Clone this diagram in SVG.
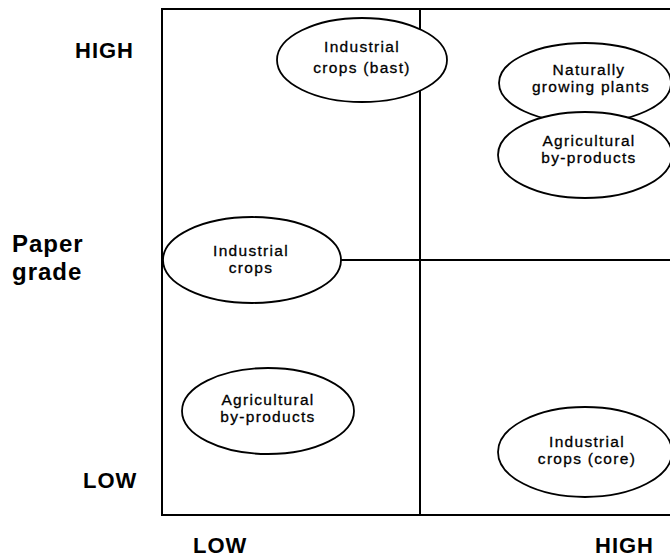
<svg xmlns="http://www.w3.org/2000/svg" width="670" height="558" viewBox="0 0 670 558">
<style>
.ln{stroke:#000;stroke-width:2;fill:none}
.el{fill:#fff;stroke:#000;stroke-width:1.8}
.t{font-family:"Liberation Sans",Arial,sans-serif;font-size:15.5px;letter-spacing:1.3px;text-anchor:middle;fill:#000;stroke:#000;stroke-width:0.3}
.ax{font-family:"Liberation Sans",Arial,sans-serif;font-size:22px;font-weight:bold;letter-spacing:1px;fill:#000}
.pg{font-family:"Liberation Sans",Arial,sans-serif;font-size:24px;font-weight:bold;letter-spacing:1px;fill:#000}
</style>
<rect width="670" height="558" fill="#fff"/>
<g id="frame">
<path class="ln" d="M672,9 H162 V515 H672"/>
<line class="ln" x1="420" y1="9" x2="420" y2="515"/>
<line class="ln" x1="340" y1="260" x2="672" y2="260"/>
</g>
<g id="axis-labels">
<text class="ax" x="75" y="58">HIGH</text>
<text class="pg" x="12" y="252">Paper</text>
<text class="pg" x="12" y="280">grade</text>
<text class="ax" x="83" y="488">LOW</text>
<text class="ax" x="193" y="553">LOW</text>
<text class="ax" x="595" y="553">HIGH</text>
</g>
<g id="industrial-crops-bast">
<ellipse class="el" cx="362" cy="60" rx="85" ry="42"/>
<text class="t" x="362" y="52">Industrial</text>
<text class="t" x="362" y="73">crops (bast)</text>
</g>
<g id="naturally-growing-plants">
<ellipse class="el" cx="585" cy="83" rx="86" ry="40"/>
<text class="t" x="589" y="75">Naturally</text>
<text class="t" x="591" y="92">growing plants</text>
</g>
<g id="agricultural-by-products-high">
<ellipse class="el" cx="585" cy="155" rx="87" ry="43"/>
<text class="t" x="589" y="146">Agricultural</text>
<text class="t" x="589" y="163">by-products</text>
</g>
<g id="industrial-crops">
<ellipse class="el" cx="252" cy="260" rx="89" ry="43"/>
<text class="t" x="251" y="256">Industrial</text>
<text class="t" x="251" y="273">crops</text>
</g>
<g id="agricultural-by-products-low">
<ellipse class="el" cx="268" cy="411" rx="86" ry="43"/>
<text class="t" x="268" y="405">Agricultural</text>
<text class="t" x="268" y="422">by-products</text>
</g>
<g id="industrial-crops-core">
<ellipse class="el" cx="585" cy="452" rx="87" ry="45"/>
<text class="t" x="587" y="447">Industrial</text>
<text class="t" x="587" y="464">crops (core)</text>
</g>
</svg>
